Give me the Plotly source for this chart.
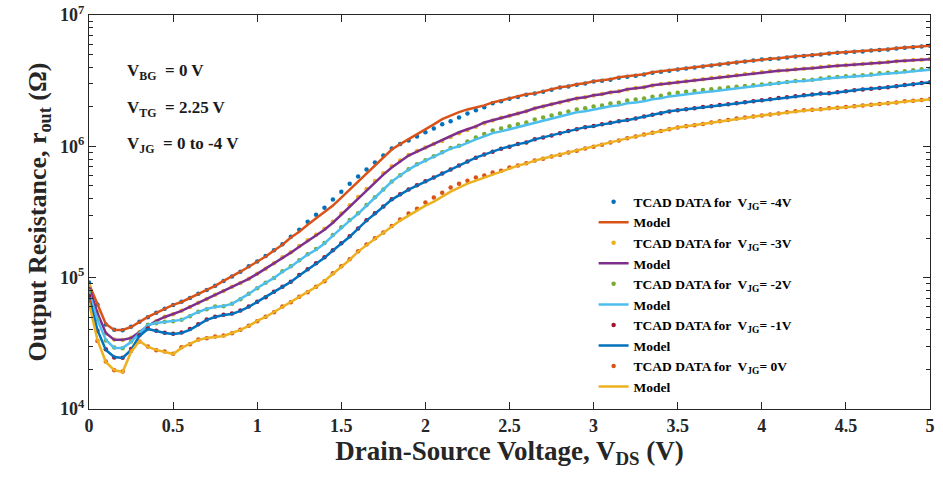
import numpy as np
import plotly.graph_objects as go

# Drain-source voltage sweep (V), 0.05 V step
vds = np.linspace(0, 5, 101)

# ---- V_JG = -4 V ----
tcad_m4 = [
    9.20e4, 6.25e4, 4.40e4, 4.02e4, 3.98e4, 4.23e4, 4.62e4, 5.00e4, 5.41e4, 5.80e4,
    6.18e4, 6.55e4, 7.00e4, 7.55e4, 8.05e4, 8.68e4, 9.42e4, 1.02e5, 1.11e5, 1.22e5,
    1.33e5, 1.46e5, 1.62e5, 1.80e5, 2.05e5, 2.32e5, 2.67e5, 3.02e5, 3.41e5, 3.93e5,
    4.52e5, 5.20e5, 5.88e5, 6.65e5, 7.52e5, 8.50e5, 9.61e5, 1.04e6, 1.11e6, 1.19e6,
    1.28e6, 1.37e6, 1.47e6, 1.55e6, 1.66e6, 1.78e6, 1.88e6, 1.98e6, 2.13e6, 2.20e6,
    2.30e6, 2.38e6, 2.47e6, 2.52e6, 2.60e6, 2.70e6, 2.80e6, 2.86e6, 2.95e6, 3.01e6,
    3.11e6, 3.16e6, 3.22e6, 3.33e6, 3.39e6, 3.45e6, 3.52e6, 3.63e6, 3.70e6, 3.77e6,
    3.84e6, 3.92e6, 3.98e6, 4.05e6, 4.12e6, 4.20e6, 4.27e6, 4.35e6, 4.42e6, 4.50e6,
    4.58e6, 4.63e6, 4.67e6, 4.75e6, 4.83e6, 4.88e6, 4.93e6, 5.01e6, 5.09e6, 5.15e6,
    5.19e6, 5.24e6, 5.28e6, 5.37e6, 5.42e6, 5.47e6, 5.56e6, 5.62e6, 5.67e6, 5.76e6,
    5.82e6,
]
model_m4 = [
    8.96e4, 6.20e4, 4.44e4, 4.00e4, 4.00e4, 4.21e4, 4.60e4, 5.02e4, 5.39e4, 5.78e4,
    6.20e4, 6.53e4, 7.01e4, 7.52e4, 8.07e4, 8.65e4, 9.45e4, 1.02e5, 1.11e5, 1.21e5,
    1.32e5, 1.45e5, 1.61e5, 1.78e5, 2.02e5, 2.24e5, 2.53e5, 2.82e5, 3.13e5, 3.54e5,
    4.07e5, 4.68e5, 5.39e5, 6.20e5, 7.13e5, 8.21e5, 9.45e5, 1.04e6, 1.13e6, 1.23e6,
    1.35e6, 1.47e6, 1.61e6, 1.72e6, 1.82e6, 1.91e6, 1.98e6, 2.05e6, 2.16e6, 2.24e6,
    2.32e6, 2.40e6, 2.49e6, 2.53e6, 2.62e6, 2.72e6, 2.82e6, 2.87e6, 2.97e6, 3.02e6,
    3.13e6, 3.18e6, 3.24e6, 3.36e6, 3.41e6, 3.47e6, 3.54e6, 3.66e6, 3.73e6, 3.79e6,
    3.86e6, 3.93e6, 4.00e6, 4.07e6, 4.14e6, 4.21e6, 4.29e6, 4.36e6, 4.44e6, 4.52e6,
    4.60e6, 4.64e6, 4.68e6, 4.77e6, 4.85e6, 4.89e6, 4.94e6, 5.02e6, 5.11e6, 5.16e6,
    5.20e6, 5.25e6, 5.29e6, 5.39e6, 5.43e6, 5.48e6, 5.58e6, 5.63e6, 5.68e6, 5.78e6,
    5.83e6,
]

# ---- V_JG = -3 V ----
tcad_m3 = [
    8.60e4, 5.45e4, 3.76e4, 3.38e4, 3.35e4, 3.49e4, 3.84e4, 4.31e4, 4.66e4, 5.04e4,
    5.27e4, 5.60e4, 5.97e4, 6.45e4, 6.87e4, 7.42e4, 7.90e4, 8.53e4, 9.10e4, 9.81e4,
    1.07e5, 1.17e5, 1.29e5, 1.43e5, 1.56e5, 1.74e5, 1.93e5, 2.12e5, 2.36e5, 2.67e5,
    3.08e5, 3.56e5, 4.12e5, 4.74e5, 5.45e5, 6.25e5, 7.05e5, 7.80e5, 8.60e5, 9.20e5,
    9.80e5, 1.04e6, 1.10e6, 1.18e6, 1.26e6, 1.33e6, 1.41e6, 1.50e6, 1.57e6, 1.65e6,
    1.71e6, 1.78e6, 1.85e6, 1.94e6, 2.01e6, 2.09e6, 2.16e6, 2.23e6, 2.31e6, 2.36e6,
    2.44e6, 2.50e6, 2.57e6, 2.63e6, 2.71e6, 2.78e6, 2.82e6, 2.91e6, 2.98e6, 3.02e6,
    3.08e6, 3.13e6, 3.19e6, 3.24e6, 3.31e6, 3.36e6, 3.42e6, 3.47e6, 3.55e6, 3.60e6,
    3.67e6, 3.73e6, 3.77e6, 3.80e6, 3.87e6, 3.90e6, 3.94e6, 4.01e6, 4.08e6, 4.11e6,
    4.15e6, 4.19e6, 4.23e6, 4.30e6, 4.33e6, 4.38e6, 4.45e6, 4.49e6, 4.54e6, 4.57e6,
    4.62e6,
]
model_m3 = [
    8.50e4, 5.39e4, 3.79e4, 3.36e4, 3.36e4, 3.47e4, 3.86e4, 4.29e4, 4.68e4, 5.02e4,
    5.29e4, 5.58e4, 5.99e4, 6.42e4, 6.89e4, 7.39e4, 7.93e4, 8.50e4, 9.12e4, 9.78e4,
    1.07e5, 1.17e5, 1.28e5, 1.42e5, 1.55e5, 1.72e5, 1.91e5, 2.09e5, 2.32e5, 2.62e5,
    3.02e5, 3.47e5, 4.00e5, 4.60e5, 5.29e5, 6.09e5, 6.89e5, 7.65e5, 8.50e5, 9.12e5,
    9.78e5, 1.04e6, 1.11e6, 1.19e6, 1.28e6, 1.35e6, 1.42e6, 1.52e6, 1.58e6, 1.66e6,
    1.72e6, 1.78e6, 1.85e6, 1.95e6, 2.02e6, 2.09e6, 2.16e6, 2.24e6, 2.32e6, 2.36e6,
    2.45e6, 2.49e6, 2.58e6, 2.62e6, 2.72e6, 2.77e6, 2.82e6, 2.92e6, 2.97e6, 3.02e6,
    3.07e6, 3.13e6, 3.18e6, 3.24e6, 3.30e6, 3.36e6, 3.41e6, 3.47e6, 3.54e6, 3.60e6,
    3.66e6, 3.73e6, 3.76e6, 3.79e6, 3.86e6, 3.89e6, 3.93e6, 4.00e6, 4.07e6, 4.10e6,
    4.14e6, 4.18e6, 4.21e6, 4.29e6, 4.32e6, 4.36e6, 4.44e6, 4.48e6, 4.52e6, 4.56e6,
    4.60e6,
]

# ---- V_JG = -2 V ----
tcad_m2 = [
    7.90e4, 4.82e4, 3.33e4, 2.94e4, 2.90e4, 3.27e4, 3.76e4, 4.38e4, 4.50e4, 4.62e4,
    4.66e4, 4.79e4, 5.09e4, 5.50e4, 5.76e4, 6.02e4, 6.07e4, 6.34e4, 6.86e4, 7.55e4,
    8.32e4, 9.15e4, 9.93e4, 1.12e5, 1.22e5, 1.36e5, 1.51e5, 1.65e5, 1.84e5, 2.11e5,
    2.42e5, 2.75e5, 3.10e5, 3.57e5, 4.10e5, 4.70e5, 5.40e5, 6.02e5, 6.68e5, 7.30e5,
    7.84e5, 8.40e5, 9.02e5, 9.70e5, 1.01e6, 1.09e6, 1.17e6, 1.24e6, 1.32e6, 1.37e6,
    1.42e6, 1.47e6, 1.52e6, 1.60e6, 1.66e6, 1.72e6, 1.78e6, 1.84e6, 1.91e6, 1.95e6,
    2.01e6, 2.05e6, 2.12e6, 2.15e6, 2.23e6, 2.27e6, 2.31e6, 2.39e6, 2.43e6, 2.51e6,
    2.56e6, 2.60e6, 2.64e6, 2.68e6, 2.72e6, 2.76e6, 2.80e6, 2.84e6, 2.88e6, 2.92e6,
    2.96e6, 3.00e6, 3.04e6, 3.09e6, 3.15e6, 3.18e6, 3.22e6, 3.28e6, 3.34e6, 3.37e6,
    3.41e6, 3.44e6, 3.47e6, 3.53e6, 3.60e6, 3.63e6, 3.67e6, 3.73e6, 3.80e6, 3.86e6,
    3.90e6,
]
model_m2 = [
    7.79e4, 4.77e4, 3.36e4, 2.92e4, 2.92e4, 3.24e4, 3.79e4, 4.36e4, 4.52e4, 4.60e4,
    4.68e4, 4.77e4, 5.11e4, 5.48e4, 5.78e4, 5.99e4, 6.09e4, 6.31e4, 6.89e4, 7.52e4,
    8.35e4, 9.12e4, 9.96e4, 1.11e5, 1.21e5, 1.35e5, 1.50e5, 1.63e5, 1.82e5, 2.09e5,
    2.40e5, 2.72e5, 3.07e5, 3.54e5, 4.07e5, 4.68e5, 5.39e5, 5.99e5, 6.65e5, 7.26e5,
    7.79e5, 8.35e5, 8.96e5, 9.61e5, 1.00e6, 1.07e6, 1.13e6, 1.19e6, 1.26e6, 1.30e6,
    1.35e6, 1.40e6, 1.45e6, 1.52e6, 1.58e6, 1.63e6, 1.69e6, 1.75e6, 1.82e6, 1.85e6,
    1.91e6, 1.95e6, 2.02e6, 2.05e6, 2.13e6, 2.16e6, 2.20e6, 2.28e6, 2.32e6, 2.40e6,
    2.45e6, 2.49e6, 2.53e6, 2.58e6, 2.62e6, 2.67e6, 2.72e6, 2.77e6, 2.82e6, 2.87e6,
    2.92e6, 2.97e6, 3.02e6, 3.07e6, 3.13e6, 3.15e6, 3.18e6, 3.24e6, 3.30e6, 3.33e6,
    3.36e6, 3.38e6, 3.41e6, 3.47e6, 3.54e6, 3.57e6, 3.60e6, 3.66e6, 3.73e6, 3.79e6,
    3.83e6,
]

# ---- V_JG = -1 V ----
tcad_m1 = [
    7.25e4, 3.95e4, 2.85e4, 2.47e4, 2.46e4, 2.86e4, 3.64e4, 4.10e4, 3.95e4, 3.80e4,
    3.74e4, 3.82e4, 4.06e4, 4.42e4, 4.80e4, 5.05e4, 5.22e4, 5.33e4, 5.62e4, 6.03e4,
    6.56e4, 7.10e4, 7.82e4, 8.54e4, 9.30e4, 1.05e5, 1.16e5, 1.29e5, 1.43e5, 1.62e5,
    1.83e5, 2.07e5, 2.37e5, 2.74e5, 3.09e5, 3.49e5, 3.95e5, 4.31e5, 4.70e5, 5.05e5,
    5.41e5, 5.80e5, 6.22e5, 6.66e5, 7.15e5, 7.66e5, 8.20e5, 8.66e5, 9.10e5, 9.60e5,
    9.94e5, 1.04e6, 1.07e6, 1.13e6, 1.17e6, 1.21e6, 1.26e6, 1.31e6, 1.35e6, 1.40e6,
    1.43e6, 1.47e6, 1.51e6, 1.55e6, 1.59e6, 1.63e6, 1.69e6, 1.74e6, 1.79e6, 1.84e6,
    1.88e6, 1.92e6, 1.95e6, 1.99e6, 2.02e6, 2.06e6, 2.09e6, 2.13e6, 2.17e6, 2.20e6,
    2.24e6, 2.28e6, 2.33e6, 2.36e6, 2.41e6, 2.45e6, 2.48e6, 2.52e6, 2.54e6, 2.58e6,
    2.63e6, 2.67e6, 2.71e6, 2.75e6, 2.78e6, 2.82e6, 2.87e6, 2.93e6, 2.97e6, 3.03e6,
    3.08e6,
]
model_m1 = [
    7.13e4, 4.00e4, 2.82e4, 2.49e4, 2.45e4, 2.82e4, 3.60e4, 4.07e4, 3.93e4, 3.79e4,
    3.73e4, 3.79e4, 4.00e4, 4.36e4, 4.77e4, 5.02e4, 5.20e4, 5.29e4, 5.58e4, 5.99e4,
    6.53e4, 7.13e4, 7.79e4, 8.50e4, 9.28e4, 1.04e5, 1.15e5, 1.28e5, 1.42e5, 1.61e5,
    1.82e5, 2.05e5, 2.36e5, 2.72e5, 3.07e5, 3.47e5, 3.93e5, 4.29e5, 4.68e5, 5.02e5,
    5.39e5, 5.78e5, 6.20e5, 6.65e5, 7.13e5, 7.65e5, 8.21e5, 8.65e5, 9.12e5, 9.61e5,
    9.96e5, 1.04e6, 1.07e6, 1.13e6, 1.17e6, 1.21e6, 1.26e6, 1.30e6, 1.35e6, 1.40e6,
    1.42e6, 1.47e6, 1.50e6, 1.55e6, 1.58e6, 1.63e6, 1.69e6, 1.75e6, 1.79e6, 1.85e6,
    1.88e6, 1.91e6, 1.95e6, 1.98e6, 2.02e6, 2.05e6, 2.09e6, 2.13e6, 2.16e6, 2.20e6,
    2.24e6, 2.28e6, 2.32e6, 2.36e6, 2.40e6, 2.45e6, 2.49e6, 2.51e6, 2.53e6, 2.58e6,
    2.62e6, 2.67e6, 2.72e6, 2.74e6, 2.77e6, 2.82e6, 2.87e6, 2.92e6, 2.97e6, 3.02e6,
    3.07e6,
]

# ---- V_JG = 0 V ----
tcad_0 = [
    6.55e4, 3.30e4, 2.30e4, 1.97e4, 1.93e4, 2.76e4, 3.27e4, 2.99e4, 2.80e4, 2.74e4,
    2.63e4, 2.95e4, 3.11e4, 3.38e4, 3.46e4, 3.56e4, 3.62e4, 3.77e4, 4.02e4, 4.31e4,
    4.66e4, 5.05e4, 5.46e4, 6.02e4, 6.50e4, 7.16e4, 7.76e4, 8.54e4, 9.41e4, 1.08e5,
    1.22e5, 1.38e5, 1.59e5, 1.79e5, 2.00e5, 2.21e5, 2.47e5, 2.77e5, 3.08e5, 3.35e5,
    3.73e5, 4.07e5, 4.44e5, 4.85e5, 5.20e5, 5.48e5, 5.78e5, 6.00e5, 6.31e5, 6.53e5,
    6.89e5, 7.16e5, 7.42e5, 7.80e5, 8.06e5, 8.37e5, 8.63e5, 8.98e5, 9.26e5, 9.63e5,
    9.92e5, 1.03e6, 1.07e6, 1.11e6, 1.15e6, 1.19e6, 1.23e6, 1.27e6, 1.31e6, 1.35e6,
    1.39e6, 1.42e6, 1.45e6, 1.48e6, 1.52e6, 1.55e6, 1.59e6, 1.63e6, 1.66e6, 1.69e6,
    1.72e6, 1.75e6, 1.78e6, 1.82e6, 1.85e6, 1.88e6, 1.90e6, 1.92e6, 1.95e6, 1.97e6,
    1.99e6, 2.02e6, 2.05e6, 2.07e6, 2.10e6, 2.13e6, 2.16e6, 2.20e6, 2.22e6, 2.25e6,
    2.29e6,
]
model_0 = [
    6.42e4, 3.36e4, 2.28e4, 1.98e4, 1.91e4, 2.72e4, 3.30e4, 2.97e4, 2.82e4, 2.72e4,
    2.62e4, 2.92e4, 3.13e4, 3.36e4, 3.47e4, 3.54e4, 3.60e4, 3.79e4, 4.00e4, 4.29e4,
    4.68e4, 5.02e4, 5.48e4, 5.99e4, 6.53e4, 7.13e4, 7.79e4, 8.50e4, 9.45e4, 1.07e5,
    1.21e5, 1.37e5, 1.58e5, 1.78e5, 1.98e5, 2.20e5, 2.45e5, 2.72e5, 2.97e5, 3.24e5,
    3.54e5, 3.79e5, 4.14e5, 4.52e5, 4.85e5, 5.20e5, 5.48e5, 5.78e5, 6.09e5, 6.42e5,
    6.77e5, 7.13e5, 7.39e5, 7.79e5, 8.07e5, 8.35e5, 8.65e5, 8.96e5, 9.28e5, 9.61e5,
    9.96e5, 1.03e6, 1.07e6, 1.11e6, 1.15e6, 1.19e6, 1.23e6, 1.27e6, 1.31e6, 1.35e6,
    1.39e6, 1.42e6, 1.45e6, 1.48e6, 1.52e6, 1.55e6, 1.59e6, 1.63e6, 1.66e6, 1.69e6,
    1.72e6, 1.75e6, 1.78e6, 1.82e6, 1.85e6, 1.88e6, 1.90e6, 1.91e6, 1.95e6, 1.97e6,
    1.98e6, 2.02e6, 2.05e6, 2.07e6, 2.09e6, 2.13e6, 2.16e6, 2.20e6, 2.22e6, 2.24e6,
    2.28e6,
]

jg_labels = ["-4V", "-3V", "-2V", "-1V", "0V"]
tcad_sets = [tcad_m4, tcad_m3, tcad_m2, tcad_m1, tcad_0]
model_sets = [model_m4, model_m3, model_m2, model_m1, model_0]
tcad_colors = ["#0072BD", "#EDB120", "#77AC30", "#A2142F", "#D95319"]
model_colors = ["#D95319", "#7E2F8E", "#4DBEEE", "#0072BD", "#EDB120"]

# Decade ticks of the resistance axis, with 2..9 minor ticks in between
y_tickvals = [1e4, 1e5, 1e6, 1e7]
y_ticktext = ["10<sup>4</sup>", "10<sup>5</sup>", "10<sup>6</sup>", "10<sup>7</sup>"]
y_minor_vals = [m * 10.0 ** d for d in (4, 5, 6) for m in range(2, 10)]

FONT = "Liberation Serif, Times New Roman, serif"
AXIS_COLOR = "#262626"

fig = go.Figure()
for lab, tc, md, c_dot, c_line in zip(jg_labels, tcad_sets, model_sets, tcad_colors, model_colors):
    fig.add_trace(go.Scatter(
        x=vds, y=tc, mode="markers",
        marker=dict(color=c_dot, size=4.5, line=dict(width=0)),
        name=f"TCAD DATA for  V<sub>JG</sub>= {lab}",
    ))
    fig.add_trace(go.Scatter(
        x=vds, y=md, mode="lines",
        line=dict(color=c_line, width=2.5),
        name="Model",
    ))

axis_common = dict(
    showline=True, linecolor=AXIS_COLOR, linewidth=1, mirror="ticks",
    ticks="inside", tickcolor=AXIS_COLOR, showgrid=False, zeroline=False,
    automargin=False,
    tickfont=dict(family=FONT, size=18, color="#262626", weight="bold"),
)

fig.update_layout(
    width=943, height=477,
    margin=dict(l=89, r=13, t=15, b=68),
    paper_bgcolor="white", plot_bgcolor="white",
    font=dict(family=FONT, color="#262626", weight="bold"),
    showlegend=True,
    legend=dict(
        x=0.6, y=0.565, xanchor="left", yanchor="top",
        bgcolor="rgba(0,0,0,0)", borderwidth=0,
        font=dict(family=FONT, size=13.5, color="black", weight="bold"),
        tracegroupgap=0, itemwidth=30,
    ),
    xaxis=dict(
        range=[0, 5], dtick=0.5, ticklen=7, **axis_common,
        title=dict(text="Drain-Source Voltage, V<sub>DS</sub> (V)",
                   font=dict(family=FONT, size=27, color="#262626", weight="bold"),
                   standoff=4),
    ),
    yaxis=dict(
        type="log", range=[4, 7], tickvals=y_tickvals, ticktext=y_ticktext,
        ticklen=7,
        minor=dict(tickvals=y_minor_vals, ticks="inside", ticklen=4,
                   tickcolor=AXIS_COLOR, showgrid=False),
        **axis_common,
        title=dict(text="Output Resistance, r<sub>out</sub> (Ω)",
                   font=dict(family=FONT, size=26, color="#262626", weight="bold"),
                   standoff=6),
    ),
)

# Bias conditions
bias_notes = [
    "V<sub>BG</sub>  = 0 V",
    "V<sub>TG</sub>  = 2.25 V",
    "V<sub>JG</sub>  = 0 to -4 V",
]
note_y = [0.855, 0.762, 0.67]
for txt, yy in zip(bias_notes, note_y):
    fig.add_annotation(
        text=txt, xref="paper", yref="paper", x=0.043, y=yy,
        xanchor="left", yanchor="middle", showarrow=False,
        font=dict(family=FONT, size=17, color="#1a1a1a", weight="bold"),
    )

fig.write_html("out.html")
